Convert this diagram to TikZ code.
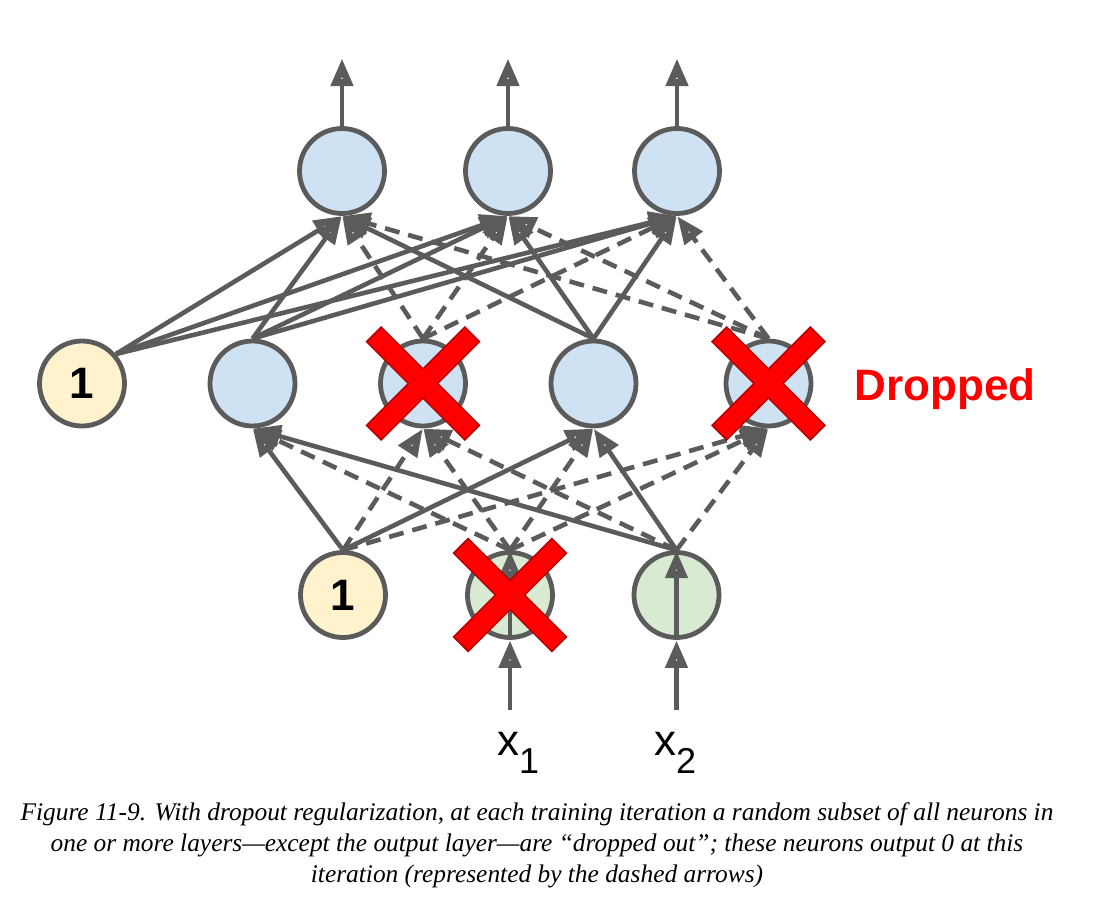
\documentclass[tikz,border=0pt]{standalone}
\usepackage{fontspec}
\setmainfont{Liberation Serif}
\newfontfamily\arialfont{Liberation Sans}
\usetikzlibrary{arrows.meta}
\definecolor{linegray}{HTML}{5B5B5B}
\definecolor{nblue}{HTML}{CFE2F3}
\definecolor{nyellow}{HTML}{FFF2CC}
\definecolor{ngreen}{HTML}{D9EAD3}
\definecolor{xred}{HTML}{FF0000}
\definecolor{xdark}{HTML}{B80000}
\begin{document}
\begin{tikzpicture}[x=1pt,y=-1pt,
  neuron/.style={circle, draw=linegray, line width=4.8pt, minimum size=85pt, inner sep=0pt},
  blueneuron/.style={neuron, fill=nblue},
  biasneuron/.style={neuron, fill=nyellow, font=\arialfont\bfseries\fontsize{44}{44}\selectfont},
  inneuron/.style={neuron, fill=ngreen},
  conn/.style={line width=4.6pt, draw=linegray, line cap=butt,
    -{Triangle[open, length=28pt, width=21pt, line width=7pt]}},
  dconn/.style={conn, dash pattern=on 15pt off 9pt},
  xlabel/.style={anchor=base west, inner sep=0pt, font=\arialfont\fontsize{44}{44}\selectfont},
]
\useasboundingbox (0,0) rectangle (1098,902);

% output layer
\node[blueneuron] (o1) at (342,171) {};
\node[blueneuron] (o2) at (508,171) {};
\node[blueneuron] (o3) at (677,171) {};
% hidden layer
\node[biasneuron] (hb) at (82,383.5) {1};
\node[blueneuron] (h1) at (252.5,383.5) {};
\node[blueneuron] (h2) at (423,383.5) {};
\node[blueneuron] (h3) at (593.5,383.5) {};
\node[blueneuron] (h4) at (768.5,383.5) {};
% input layer
\node[biasneuron] (ib) at (343,595) {1};
\node[inneuron] (x1) at (510,595) {};
\node[inneuron] (x2) at (676.5,595) {};

% output arrows
\coordinate (t1) at (342,58);
\coordinate (t2) at (508,58);
\coordinate (t3) at (677,58);
\draw[conn] (o1.north) -- (t1);
\draw[conn] (o2.north) -- (t2);
\draw[conn] (o3.north) -- (t3);

% hidden -> output
\foreach \o in {o1,o2,o3}{
  \draw[conn] (hb.41) -- (\o.south);
  \draw[conn] (h1.north) -- (\o.south);
  \draw[conn] (h3.north) -- (\o.south);
  \draw[dconn] (h2.north) -- (\o.south);
  \draw[dconn] (h4.north) -- (\o.south);
}

% input -> hidden
\draw[conn] (ib.north) -- (h1.south);
\draw[conn] (ib.north) -- (h3.south);
\draw[dconn] (ib.north) -- (h2.south);
\draw[dconn] (ib.north) -- (h4.south);
\foreach \h in {h1,h2,h3,h4}{
  \draw[dconn] (x1.north) -- (\h.south);
}
\draw[conn] (x2.north) -- (h1.south);
\draw[conn] (x2.north) -- (h3.south);
\draw[dconn] (x2.north) -- (h2.south);
\draw[dconn] (x2.north) -- (h4.south);

% input arrows
\coordinate (i1) at (510,710);
\coordinate (i2) at (676.5,710);
\draw[conn] (i1) -- (x1.south);
\draw[conn] (i2) -- (x2.south);
\draw[conn] (x1.south) -- (x1.north);
\draw[conn] (x2.south) -- (x2.north);

% labels
\node[xlabel] (lx1) at (497,755) {x\raisebox{-18pt}{\fontsize{36}{36}\selectfont 1}};
\node[xlabel] (lx2) at (654,755) {x\raisebox{-18pt}{\fontsize{36}{36}\selectfont 2}};
\node[font=\arialfont\bfseries\fontsize{44}{44}\selectfont, text=xred, inner sep=0pt] (dropped) at (945,389) {Dropped};

% red crosses
\foreach \n in {h2,h4,x1}{
  \begin{scope}[shift={(\n.center)}]
    \draw[line width=22pt, draw=xdark] (-49.7,-49.7) -- (49.7,49.7) (-49.7,49.7) -- (49.7,-49.7);
    \draw[line width=19pt, draw=xred] (-48.3,-48.3) -- (48.3,48.3) (-48.3,48.3) -- (48.3,-48.3);
  \end{scope}
}

% caption
\node[align=center, inner sep=0pt, font=\itshape\fontsize{25.4}{31}\selectfont] (caption) at (537,845)
 {Figure 11-9. With dropout regularization, at each training iteration a random subset of all neurons in\\
  one or more layers---except the output layer---are ``dropped out''; these neurons output 0 at this\\
  iteration (represented by the dashed arrows)};
\end{tikzpicture}
\end{document}
